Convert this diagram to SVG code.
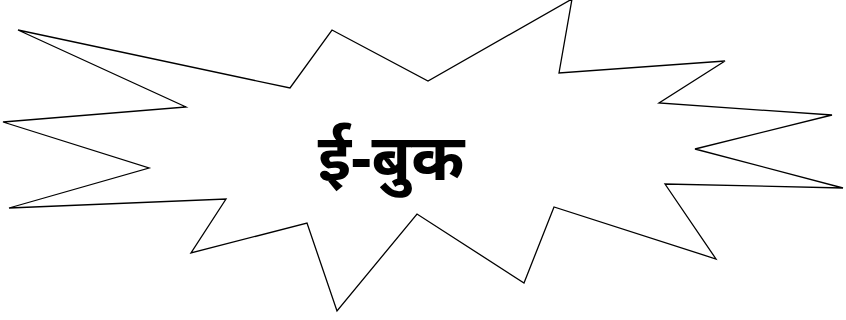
<svg xmlns="http://www.w3.org/2000/svg" width="846" height="320" viewBox="0 0 846 320">
<style>
.star{fill:#ffffff;stroke:#000000;stroke-width:1.3;stroke-linejoin:miter}
.lbl{font-family:"Noto Sans","Noto Sans Devanagari","Lohit Devanagari","DejaVu Sans",sans-serif;font-weight:bold;font-size:64px;fill:#000000}
</style>
<rect width="846" height="320" fill="#ffffff"/>
<g id="ebook">
<polygon class="star" points="18,30 290,88 332,30 428,81 572,-1 559,73 725,61 659,103 832,115 695,149 843,188 665,184 716,259 554,207 524,283 417,214 337,311 307,223 191,253 226,199 9,208 149,168 3,122 186,107"/>
<text class="lbl" x="391" y="180" text-anchor="middle">ई-बुक</text>
</g>
</svg>
